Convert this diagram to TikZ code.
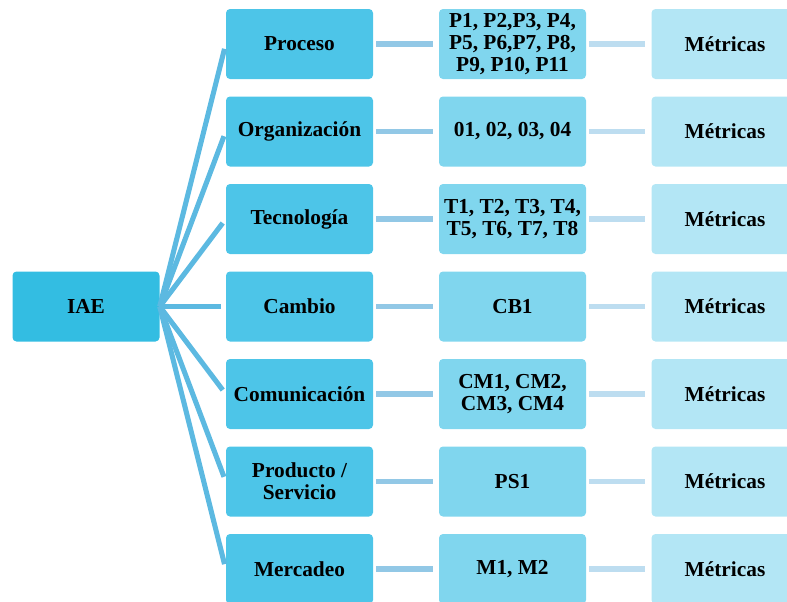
\documentclass[tikz,border=0pt]{standalone}
\usepackage{fontspec}
\setmainfont{Liberation Serif}
\usetikzlibrary{positioning}

\definecolor{rootfill}{HTML}{33BDE2}
\definecolor{catfill}{HTML}{4DC5E8}
\definecolor{itemfill}{HTML}{80D6EE}
\definecolor{metfill}{HTML}{B3E6F5}
\definecolor{fanline}{HTML}{5CB9E1}
\definecolor{linkone}{HTML}{92C8E6}
\definecolor{linktwo}{HTML}{BDDDF0}

\begin{document}
\begin{tikzpicture}[x=0.75pt, y=-0.75pt, line join=round,
    box/.style={rounded corners=3pt, minimum width=110.25pt, minimum height=52.5pt,
      inner sep=1pt, align=center, font=\fontsize{16}{16.4}\selectfont\bfseries},
    fan/.style={draw=fanline, line width=3.8pt, shorten >=3.75pt},
    link/.style={line width=4.2pt, shorten <=2.25pt, shorten >=4.5pt}]
  \useasboundingbox (0,0) rectangle (787,601);
  \clip (0,0) rectangle (787,601);
  % ================= root =================
  \node[box, fill=rootfill] (iae) at (86,306.5) {IAE};
  % ================= rows =================
  \foreach \nm/\cat/\items [count=\i from 0] in {
      proc/Proceso/{P1, P2,P3, P4,\\P5, P6,P7, P8,\\P9, P10, P11},
      org/Organización/{01, 02, 03, 04},
      tec/Tecnología/{T1, T2, T3, T4,\\T5, T6, T7, T8},
      cam/Cambio/{CB1},
      com/Comunicación/{CM1, CM2,\\CM3, CM4},
      prod/{Producto /\\Servicio}/{PS1},
      mer/Mercadeo/{M1, M2}} {
    \node[box, fill=catfill]  (\nm-c) at (299.5,44+87.5*\i) {\cat};
    \node[box, fill=itemfill] (\nm-i) at (512.5,44+87.5*\i) {\items};
    \node[box, fill=metfill]  (\nm-m) at (725,44+87.5*\i) {Métricas};
    % fan from root, links along the row
    \draw[fan] (iae.east) -- (\nm-c.west);
    \draw[link, draw=linkone] (\nm-c) -- (\nm-i);
    \draw[link, draw=linktwo] (\nm-i) -- (\nm-m);
  }
\end{tikzpicture}
\end{document}
